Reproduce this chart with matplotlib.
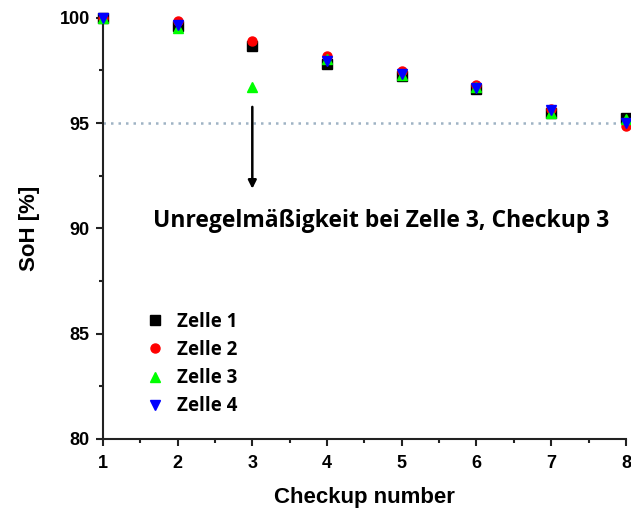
import numpy as np
import matplotlib
matplotlib.use("Agg")
import matplotlib.pyplot as plt
from matplotlib.ticker import MultipleLocator

checkups = [1, 2, 3, 4, 5, 6, 7, 8]
zelle1 = [100.0, 99.6, 98.65, 97.8, 97.25, 96.6, 95.5, 95.25]
zelle2 = [100.0, 99.85, 98.9, 98.2, 97.45, 96.8, 95.65, 94.85]
zelle3 = [100.0, 99.5, 96.7, 98.05, 97.3, 96.7, 95.5, 95.2]
zelle4 = [100.0, 99.65, np.nan, 97.95, 97.35, 96.65, 95.6, 95.0]
labels = ["Zelle 1", "Zelle 2", "Zelle 3", "Zelle 4"]
threshold = 95
annotation = "Unregelmäßigkeit bei Zelle 3, Checkup 3"

fig = plt.figure(figsize=(6.31, 5.08), dpi=100)
ax = fig.add_axes([0.163, 0.136, 0.829, 0.829])

ax.axhline(threshold, color="#9fb3c4", linestyle=(0, (1, 2)), linewidth=1.8, zorder=1)

styles = [("s", "black"), ("o", "red"), ("^", "#00ff00"), ("v", "blue")]
for vals, lab, (m, c) in zip([zelle1, zelle2, zelle3, zelle4], labels, styles):
    ax.plot(checkups, vals, linestyle="none", marker=m, color=c, markersize=6.5,
            label=lab, clip_on=False, zorder=3)

ax.annotate("", xy=(3, 91.75), xytext=(3, 95.9),
            arrowprops=dict(arrowstyle="-|>", color="black", lw=1.8, mutation_scale=12))
ax.text(4.73, 90.07, annotation, ha="center", va="baseline", fontsize=16.5,
        fontweight="bold", family="Open Sans")

ax.set_xlim(1, 8)
ax.set_ylim(80, 100)
ax.xaxis.set_major_locator(MultipleLocator(1))
ax.xaxis.set_minor_locator(MultipleLocator(0.5))
ax.yaxis.set_major_locator(MultipleLocator(5))
ax.yaxis.set_minor_locator(MultipleLocator(2.5))
for s in ["top", "right"]:
    ax.spines[s].set_visible(False)
for s in ["left", "bottom"]:
    ax.spines[s].set_linewidth(1.5)
    ax.spines[s].set_color("#222222")
ax.tick_params(which="major", direction="out", length=5, width=1.5, color="#222222")
ax.tick_params(which="minor", direction="out", length=3, width=1.5, color="#222222")
ax.tick_params(axis="x", which="major", pad=6.5)
ax.tick_params(axis="y", which="major", pad=4.5)
for lbl in ax.get_xticklabels() + ax.get_yticklabels():
    lbl.set_fontweight("bold")
    lbl.set_family("Liberation Sans")
    lbl.set_fontsize(13)

ax.set_xlabel("Checkup number", fontsize=16, fontweight="bold", family="Liberation Sans", labelpad=11)
ax.set_ylabel("SoH [%]", fontsize=16, fontweight="bold", family="Liberation Sans", labelpad=14)

leg = ax.legend(loc="lower left", bbox_to_anchor=(0.045, 0.014), frameon=False,
                prop=dict(family="Open Sans", weight="bold", size=13.5),
                handletextpad=0.6, labelspacing=0.43, handlelength=1.2)

fig.savefig("out.png", dpi=100)
